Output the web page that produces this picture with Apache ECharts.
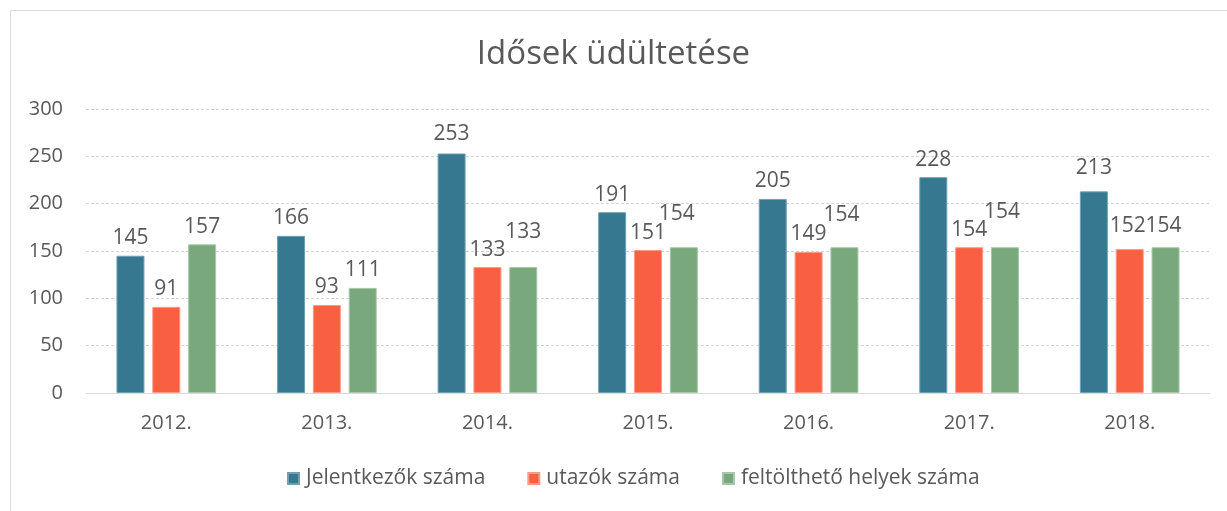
<!DOCTYPE html>
<html>
<head>
<meta charset="utf-8">
<title>Idősek üdültetése</title>
<script src="https://cdn.jsdelivr.net/npm/echarts@6/dist/echarts.min.js"></script>
<style>
  html, body { margin: 0; padding: 0; background: #ffffff; }
  #chart { width: 1227px; height: 511px; }
</style>
</head>
<body>
<div id="chart"></div>
<script>
// Évek és sorozatok
const years = ['2012.', '2013.', '2014.', '2015.', '2016.', '2017.', '2018.'];
const applicants = [145, 166, 253, 191, 205, 228, 213];
const travellers = [91, 93, 133, 151, 149, 154, 152];
const places = [157, 111, 133, 154, 154, 154, 154];
const yTicks = [0, 50, 100, 150, 200, 250, 300];

const seriesNames = ['Jelentkezők száma', 'utazók száma', 'feltölthető helyek száma'];
const colors = ['#36788F', '#F95F41', '#78A87B'];
const edgeColors = ['#6FA0B2', '#FB9A86', '#A6C8A8'];

const textColor = '#595959';
const fontFamily = '"Open Sans", "Noto Sans", sans-serif';

// Kézzel elmozdított címkék (sorozat -> év indexe -> [dx, dy])
const labelNudges = [
  { 2: [0, -2], 6: [0, -6] },
  { 6: [-2, -6] },
  { 2: [0, -18], 3: [-7, -16], 4: [-3, -15], 5: [-3, -18], 6: [-2, -4] }
];

function buildSeries(values, idx) {
  return {
    name: seriesNames[idx],
    type: 'bar',
    barWidth: 28,
    barGap: '28%',
    itemStyle: { color: colors[idx], borderColor: edgeColors[idx], borderWidth: 1 },
    label: {
      show: true,
      position: 'top',
      distance: 7,
      color: textColor,
      fontFamily: fontFamily,
      fontSize: 21
    },
    data: values.map(function (v, i) {
      const n = labelNudges[idx][i];
      return n ? { value: v, label: { offset: n } } : v;
    })
  };
}

const chart = echarts.init(document.getElementById('chart'), null, { renderer: 'canvas' });

chart.setOption({
  animation: false,
  backgroundColor: '#ffffff',
  textStyle: { fontFamily: fontFamily, color: textColor },
  graphic: [{
    type: 'rect',
    shape: { x: 10.5, y: 10.5, width: 1400, height: 700 },
    style: { fill: 'none', stroke: '#d9d9d9', lineWidth: 1 },
    silent: true,
    z: -10
  }],
  title: {
    text: 'Idősek üdültetése',
    left: 'center',
    top: 33,
    textStyle: { fontFamily: fontFamily, fontSize: 33, fontWeight: 'normal', color: textColor }
  },
  legend: {
    data: seriesNames,
    bottom: 17,
    left: 282,
    itemWidth: 11,
    itemHeight: 11,
    itemGap: 42,
    icon: 'rect',
    textStyle: { fontFamily: fontFamily, fontSize: 21, color: textColor, padding: [0, 0, 0, 2] }
  },
  grid: { left: 86, right: 17, top: 109, bottom: 118, containLabel: false },
  xAxis: {
    type: 'category',
    data: years,
    axisLine: { show: true, lineStyle: { color: '#d9d9d9', width: 1 } },
    axisTick: { show: false },
    axisLabel: { color: textColor, fontFamily: fontFamily, fontSize: 20, margin: 20 }
  },
  yAxis: {
    type: 'value',
    min: yTicks[0],
    max: yTicks[yTicks.length - 1],
    interval: yTicks[1] - yTicks[0],
    axisLine: { show: false },
    axisTick: { show: false },
    axisLabel: { color: textColor, fontFamily: fontFamily, fontSize: 20, margin: 23 },
    splitLine: { lineStyle: { color: '#d4d4d4', width: 1, type: [3, 2] } }
  },
  series: [
    buildSeries(applicants, 0),
    buildSeries(travellers, 1),
    buildSeries(places, 2)
  ]
});
</script>
</body>
</html>
